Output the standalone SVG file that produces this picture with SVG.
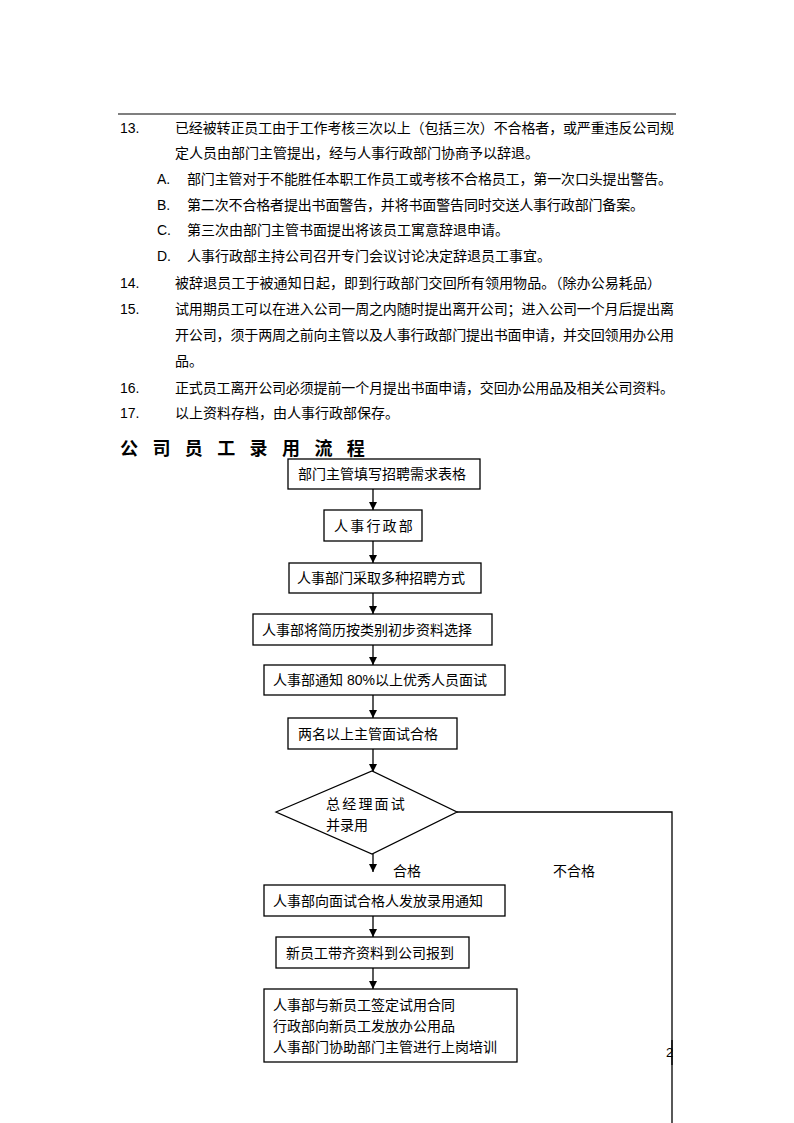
<svg xmlns="http://www.w3.org/2000/svg" width="794" height="1123" viewBox="0 0 794 1123">
<style>
text{font-family:"Liberation Sans","Noto Sans CJK SC",sans-serif;font-size:14px;fill:#000}
.box{fill:#fff;stroke:#000;stroke-width:1.3}
.ln{fill:none;stroke:#000;stroke-width:1.3}
.title{font-family:"Noto Sans CJK SC",sans-serif;font-size:18px;font-weight:bold;letter-spacing:14.4px}
</style>
<defs>
<marker id="ah" markerUnits="userSpaceOnUse" markerWidth="9" markerHeight="9" refX="8" refY="4.5" orient="auto">
<path d="M0,0.5 L8,4.5 L0,8.5 z" fill="#000"/>
</marker>
</defs>
<rect width="794" height="1123" fill="#fff"/>
<line x1="118" y1="114" x2="676" y2="114" stroke="#000" stroke-width="1.2"/>
<g id="body">
<text x="120" y="133">13.</text>
<text x="175" y="133" textLength="499">已经被转正员工由于工作考核三次以上（包括三次）不合格者，或严重违反公司规</text>
<text x="175" y="158">定人员由部门主管提出，经与人事行政部门协商予以辞退。</text>
<text x="157" y="184">A.</text>
<text x="187" y="184" textLength="485">部门主管对于不能胜任本职工作员工或考核不合格员工，第一次口头提出警告。</text>
<text x="157" y="210">B.</text>
<text x="187" y="210" textLength="457">第二次不合格者提出书面警告，并将书面警告同时交送人事行政部门备案。</text>
<text x="157" y="235">C.</text>
<text x="187" y="235">第三次由部门主管书面提出将该员工寓意辞退申请。</text>
<text x="157" y="261">D.</text>
<text x="187" y="261">人事行政部主持公司召开专门会议讨论决定辞退员工事宜。</text>
<text x="120" y="288">14.</text>
<text x="175" y="288" textLength="486">被辞退员工于被通知日起，即到行政部门交回所有领用物品。（除办公易耗品）</text>
<text x="120" y="314">15.</text>
<text x="175" y="314" textLength="499">试用期员工可以在进入公司一周之内随时提出离开公司；进入公司一个月后提出离</text>
<text x="175" y="340" textLength="499">开公司，须于两周之前向主管以及人事行政部门提出书面申请，并交回领用办公用</text>
<text x="175" y="366">品。</text>
<text x="120" y="393">16.</text>
<text x="175" y="393" textLength="499">正式员工离开公司必须提前一个月提出书面申请，交回办公用品及相关公司资料。</text>
<text x="120" y="418">17.</text>
<text x="175" y="418">以上资料存档，由人事行政部保存。</text>
<text class="title" x="120" y="455">公司员工录用流程</text>
</g>
<g id="connectors">
<line class="ln" x1="373" y1="489" x2="373" y2="510" marker-end="url(#ah)"/>
<line class="ln" x1="373" y1="541" x2="373" y2="563" marker-end="url(#ah)"/>
<line class="ln" x1="373" y1="593" x2="373" y2="614" marker-end="url(#ah)"/>
<line class="ln" x1="373" y1="645" x2="373" y2="665" marker-end="url(#ah)"/>
<line class="ln" x1="373" y1="695" x2="373" y2="718" marker-end="url(#ah)"/>
<line class="ln" x1="373" y1="749" x2="373" y2="772" marker-end="url(#ah)"/>
<line class="ln" x1="373" y1="854" x2="373" y2="872" marker-end="url(#ah)"/>
<line class="ln" x1="373" y1="916" x2="373" y2="937" marker-end="url(#ah)"/>
<line class="ln" x1="373" y1="968" x2="373" y2="989" marker-end="url(#ah)"/>
<polyline class="ln" points="457,812 672,812 672,1123"/>
<text x="393" y="876">合格</text>
<text x="553" y="876">不合格</text>
</g>
<g id="n1"><rect class="box" x="288" y="459" width="192" height="30"/><text x="298" y="479">部门主管填写招聘需求表格</text></g>
<g id="n2"><rect class="box" x="324" y="510" width="98" height="31"/><text x="334" y="531" style="letter-spacing:2.2px">人事行政部</text></g>
<g id="n3"><rect class="box" x="289" y="563" width="192" height="30"/><text x="297" y="583">人事部门采取多种招聘方式</text></g>
<g id="n4"><rect class="box" x="253" y="614" width="239" height="31"/><text x="262" y="635">人事部将简历按类别初步资料选择</text></g>
<g id="n5"><rect class="box" x="264" y="665" width="241" height="30"/><text x="273" y="685">人事部通知 80%以上优秀人员面试</text></g>
<g id="n6"><rect class="box" x="288" y="718" width="169" height="31"/><text x="298" y="739">两名以上主管面试合格</text></g>
<g id="n7"><polygon class="box" points="276,812 372,771 457,812 372,854"/><text x="326" y="809" style="letter-spacing:2.2px">总经理面试</text><text x="326" y="830">并录用</text></g>
<g id="n8"><rect class="box" x="264" y="885" width="241" height="31"/><text x="273" y="906">人事部向面试合格人发放录用通知</text></g>
<g id="n9"><rect class="box" x="276" y="937" width="193" height="31"/><text x="286" y="958">新员工带齐资料到公司报到</text></g>
<g id="n10"><rect class="box" x="264" y="989" width="253" height="73"/><text x="273" y="1010">人事部与新员工签定试用合同</text><text x="273" y="1031">行政部向新员工发放办公用品</text><text x="273" y="1052">人事部门协助部门主管进行上岗培训</text></g>
<text x="666" y="1057" style="font-size:13px">2</text>
<line x1="672" y1="1040" x2="672" y2="1065" stroke="#000" stroke-width="1.3"/>
</svg>
